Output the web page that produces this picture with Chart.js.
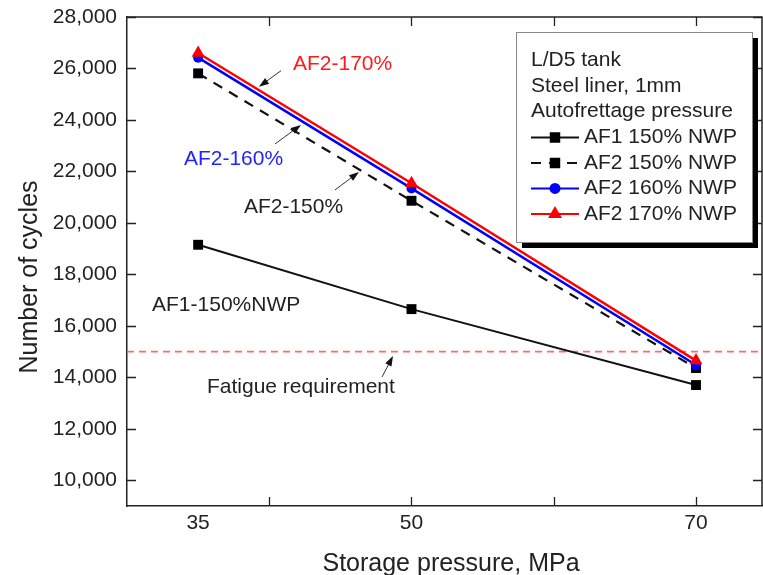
<!DOCTYPE html>
<html>
<head>
<meta charset="utf-8">
<title>Number of cycles vs storage pressure</title>
<script src="https://cdn.jsdelivr.net/npm/chart.js@4/dist/chart.umd.min.js"></script>
<style>
    html, body { margin: 0; padding: 0; background: #fff; }
    #wrap { position: relative; width: 763px; height: 575px; }
</style>
</head>
<body>
<div id="wrap"><canvas id="cyclesChart"></canvas></div>
<script>
// Data
const pressures = [35, 50, 70];                 // MPa
const af1_150 = [19150, 16650, 13700];
const af2_150 = [25810, 20860, 14360];
const af2_160 = [26420, 21340, 14480];
const af2_170 = [26600, 21540, 14650];
const fatigueRequirement = 15000;

const xTickLabels = [35, 50, 70];
const xTickMarks = [40, 50, 60, 70];
const yTickValues = [10000, 12000, 14000, 16000, 18000, 20000, 22000, 24000, 26000, 28000];
const legendHeader = ['L/D5 tank', 'Steel liner, 1mm', 'Autofrettage pressure'];

const FONT = "'Liberation Sans', Arial, sans-serif";
const AXIS = '#222';

// text callouts, anchored in data coordinates
const notes = [
    { text: 'AF2-170%', color: '#ff1a1a', x: 41.67, y: 26170, arrow: [40.83, 25914, 39.28, 25292] },
    { text: 'AF2-160%', color: '#2323ff', x: 34.0, y: 22480, arrow: [40.40, 23066, 42.23, 23804] },
    { text: 'AF2-150%', color: '#222', x: 38.22, y: 20620, arrow: [44.62, 21279, 46.31, 21978] },
    { text: 'AF1-150%NWP', color: '#222', x: 31.76, y: 16810, arrow: null },
    { text: 'Fatigue requirement', color: '#222', x: 35.62, y: 13625, arrow: [47.93, 14014, 48.70, 14830] }
];

function toPoints(values) {
    return values.map((v, i) => ({ x: pressures[i], y: v }));
}

function drawArrow(ctx, x1, y1, x2, y2) {
    const ang = Math.atan2(y2 - y1, x2 - x1);
    ctx.strokeStyle = '#333';
    ctx.fillStyle = '#111';
    ctx.lineWidth = 1;
    ctx.beginPath();
    ctx.moveTo(x1, y1);
    ctx.lineTo(x2 - 6 * Math.cos(ang), y2 - 6 * Math.sin(ang));
    ctx.stroke();
    ctx.beginPath();
    ctx.moveTo(x2, y2);
    ctx.lineTo(x2 - 10 * Math.cos(ang) + 3.5 * Math.sin(ang), y2 - 10 * Math.sin(ang) - 3.5 * Math.cos(ang));
    ctx.lineTo(x2 - 10 * Math.cos(ang) - 3.5 * Math.sin(ang), y2 - 10 * Math.sin(ang) + 3.5 * Math.cos(ang));
    ctx.closePath();
    ctx.fill();
}

// frame, inward ticks, callouts, boxed legend and axis titles
const frameAndNotes = {
    id: 'frameAndNotes',
    afterDraw(chart) {
        const { ctx, chartArea: a, scales: { x, y } } = chart;
        ctx.save();

        ctx.strokeStyle = AXIS;
        ctx.lineWidth = 1.5;
        ctx.beginPath();
        ctx.moveTo(a.left, a.top);
        ctx.lineTo(a.right, a.top);
        ctx.lineTo(a.right, a.bottom);
        ctx.stroke();

        ctx.lineWidth = 1.3;
        ctx.beginPath();
        xTickMarks.forEach(v => {
            const px = Math.round(x.getPixelForValue(v)) + 0.5;
            ctx.moveTo(px, a.bottom); ctx.lineTo(px, a.bottom - 9);
            ctx.moveTo(px, a.top); ctx.lineTo(px, a.top + 9);
        });
        yTickValues.forEach(v => {
            const py = Math.round(y.getPixelForValue(v)) + 0.5;
            ctx.moveTo(a.left, py); ctx.lineTo(a.left + 9, py);
            ctx.moveTo(a.right, py); ctx.lineTo(a.right - 9, py);
        });
        ctx.stroke();

        // callouts
        ctx.font = '21px ' + FONT;
        ctx.textAlign = 'left';
        ctx.textBaseline = 'middle';
        notes.forEach(n => {
            ctx.fillStyle = n.color;
            ctx.fillText(n.text, x.getPixelForValue(n.x), y.getPixelForValue(n.y));
            if (n.arrow) {
                drawArrow(ctx,
                    x.getPixelForValue(n.arrow[0]), y.getPixelForValue(n.arrow[1]),
                    x.getPixelForValue(n.arrow[2]), y.getPixelForValue(n.arrow[3]));
            }
        });

        // legend box with drop shadow
        const bx = 516, by = 32, bw = 236, bh = 210;
        ctx.fillStyle = '#000';
        ctx.fillRect(bx + 6, by + 6, bw, bh);
        ctx.fillStyle = '#fff';
        ctx.fillRect(bx, by, bw, bh);
        ctx.strokeStyle = '#888';
        ctx.lineWidth = 1;
        ctx.strokeRect(bx + 0.5, by + 0.5, bw, bh);

        ctx.fillStyle = '#222';
        ctx.font = '21px ' + FONT;
        let ly = 60;
        legendHeader.forEach(t => {
            ctx.fillText(t, 531, ly);
            ly += 25.8;
        });
        chart.data.datasets.forEach(ds => {
            if (!ds.inLegend) return;
            ctx.strokeStyle = ds.borderColor;
            ctx.lineWidth = 2;
            ctx.setLineDash(ds.borderDash || []);
            ctx.beginPath();
            ctx.moveTo(531, ly); ctx.lineTo(579, ly);
            ctx.stroke();
            ctx.setLineDash([]);
            ctx.fillStyle = ds.pointBackgroundColor;
            ctx.strokeStyle = ds.pointBackgroundColor;
            Chart.helpers.drawPoint(ctx, { pointStyle: ds.pointStyle, radius: ds.pointStyle === 'circle' ? 4.5 : 6, rotation: 0, borderWidth: 1 }, 555, ly);
            ctx.fillStyle = '#222';
            ctx.fillText(ds.label, 584, ly);
            ly += 25.5;
        });

        // axis titles
        ctx.fillStyle = '#222';
        ctx.font = '25px ' + FONT;
        ctx.textAlign = 'center';
        ctx.textBaseline = 'alphabetic';
        ctx.fillText('Storage pressure, MPa', 451, 571);
        ctx.translate(37, 277);
        ctx.rotate(-Math.PI / 2);
        ctx.fillText('Number of cycles', 0, 0);

        ctx.restore();
    }
};

document.addEventListener('DOMContentLoaded', function () {
    const ctx = document.getElementById('cyclesChart').getContext('2d');
    const chart = new Chart(ctx, {
        type: 'line',
        data: {
            datasets: [
                {
                    label: 'AF1 150% NWP', inLegend: true, order: 4,
                    data: toPoints(af1_150),
                    borderColor: '#111', borderWidth: 2,
                    pointStyle: 'rect', pointRadius: 7,
                    pointBackgroundColor: '#000', pointBorderColor: '#000', pointBorderWidth: 0
                },
                {
                    label: 'AF2 150% NWP', inLegend: true, order: 3,
                    data: toPoints(af2_150),
                    borderColor: '#111', borderWidth: 2.2, borderDash: [10, 8],
                    pointStyle: 'rect', pointRadius: 7,
                    pointBackgroundColor: '#000', pointBorderColor: '#000', pointBorderWidth: 0
                },
                {
                    label: 'AF2 160% NWP', inLegend: true, order: 2,
                    data: toPoints(af2_160),
                    borderColor: '#0000ff', borderWidth: 2.5,
                    pointStyle: 'circle', pointRadius: 5,
                    pointBackgroundColor: '#0000ff', pointBorderColor: '#0000ff', pointBorderWidth: 0
                },
                {
                    label: 'AF2 170% NWP', inLegend: true, order: 1,
                    data: toPoints(af2_170),
                    borderColor: '#ff0000', borderWidth: 2.5,
                    pointStyle: 'triangle', pointRadius: 7.5,
                    pointBackgroundColor: '#ff0000', pointBorderColor: '#ff0000', pointBorderWidth: 0
                },
                {
                    label: 'Fatigue requirement', inLegend: false, order: 5,
                    data: [{ x: 30, y: fatigueRequirement }, { x: 74.64, y: fatigueRequirement }],
                    borderColor: '#ff6a6a', borderWidth: 1.8, borderDash: [7, 5],
                    pointRadius: 0
                }
            ]
        },
        options: {
            responsive: true,
            maintainAspectRatio: false,
            animation: false,
            layout: { autoPadding: false, padding: { top: 17, right: 1, left: 0, bottom: 0 } },
            plugins: {
                legend: { display: false },
                tooltip: { enabled: false }
            },
            scales: {
                x: {
                    type: 'linear',
                    min: 30,
                    max: 74.64,
                    afterFit: scale => {
                        scale.height = 69;
                        scale.paddingLeft = 0;
                        scale.paddingRight = 0;
                    },
                    afterBuildTicks: scale => { scale.ticks = xTickLabels.map(v => ({ value: v })); },
                    grid: { display: false, drawTicks: false },
                    border: { display: true, color: AXIS, width: 1.5 },
                    ticks: {
                        padding: 5,
                        color: '#222',
                        font: { family: FONT, size: 21, lineHeight: 1.2 },
                        maxRotation: 0,
                        callback: v => String(v)
                    }
                },
                y: {
                    type: 'linear',
                    min: 9000,
                    max: 28000,
                    afterFit: scale => {
                        scale.width = 127;
                        scale.paddingTop = 0;
                        scale.paddingBottom = 0;
                    },
                    afterBuildTicks: scale => { scale.ticks = yTickValues.map(v => ({ value: v })); },
                    grid: { display: false, drawTicks: false },
                    border: { display: true, color: AXIS, width: 1.5 },
                    ticks: {
                        padding: 10,
                        color: '#222',
                        font: { family: FONT, size: 21 },
                        callback: v => v.toLocaleString('en-US')
                    }
                }
            }
        },
        plugins: [frameAndNotes]
    });
});
</script>
</body>
</html>
